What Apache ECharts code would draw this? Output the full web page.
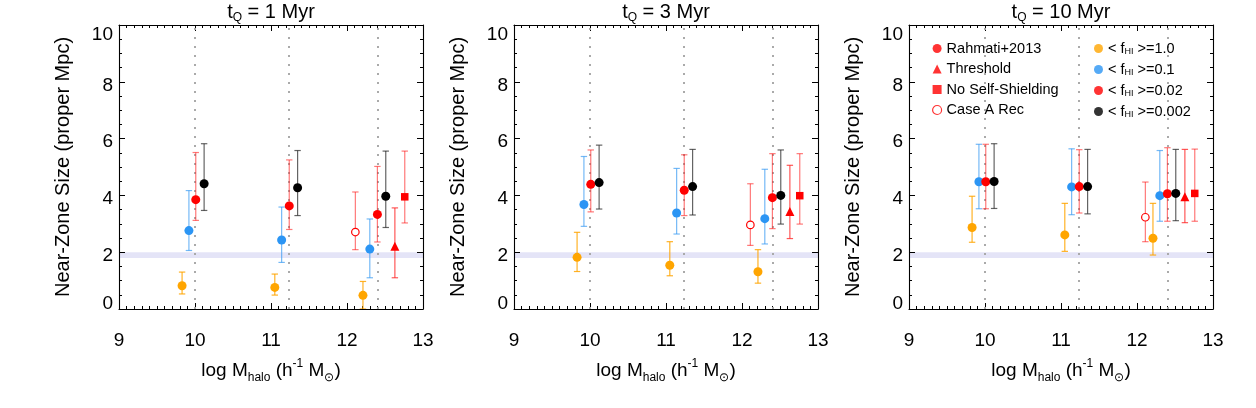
<!DOCTYPE html>
<html><head><meta charset="utf-8">
<script src="https://cdn.jsdelivr.net/npm/echarts@6/dist/echarts.min.js"></script>
<style>html,body{margin:0;padding:0;background:#fff}#c{width:1256px;height:408px}</style>
</head><body><div id="c"></div>
<script>
// ---------- data ----------
const panelTimes = ['1 Myr', '3 Myr', '10 Myr'];
const xTickMin = 9, xTickMax = 13;
const yTickMin = 0, yTickMax = 10;
const refLines = [10.0, 11.23, 12.4];      // dotted vertical guide lines
const bandRange = [1.8, 2.0];              // shaded horizontal band

// x positions (log M_halo) of each marker family
const xOrange = [9.83, 11.05, 12.21];
const xBlue   = [9.92, 11.14, 12.30];
const xRed    = [10.01, 11.24, 12.40];
const xBlack  = [10.12, 11.35, 12.51];
const xCaseA  = [12.11];
const xThresh = [12.63];
const xNoSS   = [12.76];

// [value, lower, upper] per point, tQ = 1 Myr
const orange1 = [[0.82, 0.53, 1.30], [0.76, 0.49, 1.23], [0.48, 0.0, 0.97]];
const blue1   = [[2.76, 2.06, 4.17], [2.43, 1.64, 3.59], [2.11, 1.10, 3.17]];
const red1    = [[3.85, 3.12, 5.51], [3.63, 2.80, 5.25], [3.33, 2.36, 5.02]];
const black1  = [[4.41, 3.47, 5.82], [4.27, 3.29, 5.58], [3.97, 2.87, 5.56]];
const caseA1  = [[2.71, 2.09, 4.12]];
const thresh1 = [[2.21, 1.10, 3.56]];
const noSS1   = [[3.95, 3.03, 5.56]];
// tQ = 3 Myr
const orange3 = [[1.82, 1.32, 2.70], [1.54, 1.17, 2.37], [1.31, 0.91, 2.09]];
const blue3   = [[3.68, 2.91, 5.37], [3.38, 2.64, 4.95], [3.18, 2.29, 4.92]];
const red3    = [[4.39, 3.42, 5.60], [4.18, 3.29, 5.43], [3.92, 2.83, 5.47]];
const black3  = [[4.45, 3.52, 5.77], [4.31, 3.31, 5.62], [4.00, 2.99, 5.60]];
const caseA3  = [[2.96, 2.24, 4.41]];
const thresh3 = [[3.43, 2.48, 5.06]];
const noSS3   = [[3.99, 2.99, 5.47]];
// tQ = 10 Myr
const orange10 = [[2.87, 2.35, 3.97], [2.61, 2.03, 3.72], [2.49, 1.90, 3.72]];
const blue10   = [[4.48, 3.53, 5.80], [4.30, 3.32, 5.64], [3.99, 3.09, 5.58]];
const red10    = [[4.48, 3.53, 5.80], [4.31, 3.38, 5.61], [4.06, 3.09, 5.68]];
const black10  = [[4.49, 3.54, 5.82], [4.31, 3.35, 5.62], [4.07, 3.11, 5.62]];
const caseA10  = [[3.23, 2.37, 4.47]];
const thresh10 = [[3.95, 3.04, 5.62]];
const noSS10   = [[4.07, 3.09, 5.63]];

const legendLeftNames  = ['Rahmati+2013', 'Threshold', 'No Self-Shielding', 'Case A Rec'];
const legendRightNames = ['<fHI>=1.0', '<fHI>=0.1', '<fHI>=0.02', '<fHI>=0.002'];
const legendRightVals  = ['1.0', '0.1', '0.02', '0.002'];

// ---------- styling / layout ----------
const FONT = '"Liberation Sans", Arial, Helvetica, sans-serif';
const C_OR = '#FFA500', C_BL = '#2B95F4', C_RD = '#FF0000', C_BK = '#000000';
const gridLeft = [119, 514, 909];
const gridTop = 25, gridW = 304, gridH = 284;

const panelData = [
  {orange: orange1, blue: blue1, red: red1, black: black1, caseA: caseA1, thresh: thresh1, noSS: noSS1},
  {orange: orange3, blue: blue3, red: red3, black: black3, caseA: caseA3, thresh: thresh3, noSS: noSS3},
  {orange: orange10, blue: blue10, red: red10, black: black10, caseA: caseA10, thresh: thresh10, noSS: noSS10}
];

function errRender(color, opacity) {
  return function (params, api) {
    const x = api.value(0), lo = api.value(1), hi = api.value(2);
    const a = api.coord([x, lo]), b = api.coord([x, hi]);
    const cw = 3.2;
    const st = {stroke: color, lineWidth: 1.2, opacity: opacity};
    return {type: 'group', children: [
      {type: 'line', shape: {x1: a[0], y1: a[1], x2: b[0], y2: b[1]}, style: st},
      {type: 'line', shape: {x1: a[0] - cw, y1: a[1], x2: a[0] + cw, y2: a[1]}, style: st},
      {type: 'line', shape: {x1: b[0] - cw, y1: b[1], x2: b[0] + cw, y2: b[1]}, style: st}
    ]};
  };
}

const grids = [], xAxes = [], yAxes = [], series = [];
const axisLineStyle = {color: '#000', width: 1.1};
const richName = {
  a: {fontSize: 19, fontFamily: FONT, color: '#000', lineHeight: 26},
  s: {fontSize: 12, fontFamily: FONT, color: '#000', lineHeight: 12, verticalAlign: 'bottom'},
  p: {fontSize: 12, fontFamily: FONT, color: '#000', lineHeight: 12, verticalAlign: 'top'}
};

for (let i = 0; i < 3; i++) {
  grids.push({left: gridLeft[i], top: gridTop, width: gridW, height: gridH});
  const xBase = {
    gridIndex: i, type: 'value', min: xTickMin, max: xTickMax, interval: 1,
    axisLine: {show: true, onZero: false, lineStyle: axisLineStyle},
    axisTick: {show: true, inside: true, length: 6, lineStyle: {color: '#000', width: 1}},
    minorTick: {show: true, splitNumber: 10, length: 3, lineStyle: {color: '#000', width: 1}},
    splitLine: {show: false}, minorSplitLine: {show: false}
  };
  xAxes.push(Object.assign({}, xBase, {
    position: 'bottom',
    axisLabel: {show: true, margin: 22, fontSize: 19, color: '#000', fontFamily: FONT},
    name: '{a|log M}{s|halo}{a| (h}{p|-1}{a| M}{s|\u2299}{a|)}',
    nameLocation: 'middle', nameGap: 49,
    nameTextStyle: {rich: richName}
  }));
  const yBase = {
    gridIndex: i, type: 'value', min: yTickMin, max: yTickMax, interval: 2,
    axisLine: {show: true, onZero: false, lineStyle: axisLineStyle},
    axisTick: {show: true, inside: true, length: 6, lineStyle: {color: '#000', width: 1}},
    minorTick: {show: true, splitNumber: 4, length: 3, lineStyle: {color: '#000', width: 1}},
    splitLine: {show: false}, minorSplitLine: {show: false}
  };
  yAxes.push(Object.assign({}, yBase, {
    position: 'left',
    axisLabel: {
      show: true, margin: 6, color: '#000',
      formatter: v => v === 0 ? '{b|0}' : (v === 10 ? '{t|10}' : '{m|' + v + '}'),
      rich: {
        b: {fontSize: 19, fontFamily: FONT, color: '#000', padding: [0, 0, 10, 0]},
        t: {fontSize: 19, fontFamily: FONT, color: '#000', padding: [20, 0, 0, 0]},
        m: {fontSize: 19, fontFamily: FONT, color: '#000', padding: [7, 0, 0, 0]}
      }
    },
    name: 'Near-Zone Size (proper Mpc)', nameLocation: 'middle', nameGap: 46,
    nameTextStyle: {fontSize: 20, fontFamily: FONT, color: '#000'}
  }));
}
for (let i = 0; i < 3; i++) {
  xAxes.push({
    gridIndex: i, type: 'value', min: xTickMin, max: xTickMax, interval: 1, position: 'top',
    axisLine: {show: true, onZero: false, lineStyle: axisLineStyle},
    axisTick: {show: true, inside: true, length: 6, lineStyle: {color: '#000', width: 1}},
    minorTick: {show: true, splitNumber: 10, length: 3, lineStyle: {color: '#000', width: 1}},
    axisLabel: {show: false}, splitLine: {show: false}
  });
  yAxes.push({
    gridIndex: i, type: 'value', min: yTickMin, max: yTickMax, interval: 2, position: 'right',
    axisLine: {show: true, onZero: false, lineStyle: axisLineStyle},
    axisTick: {show: true, inside: true, length: 6, lineStyle: {color: '#000', width: 1}},
    minorTick: {show: true, splitNumber: 4, length: 3, lineStyle: {color: '#000', width: 1}},
    axisLabel: {show: false}, splitLine: {show: false}
  });
}

const families = [
  {key: 'orange', xs: xOrange, barColor: '#FFA500', barOp: 0.85, symbol: 'circle', size: 9, fill: C_OR},
  {key: 'blue',   xs: xBlue,   barColor: '#3A9BF2', barOp: 0.7, symbol: 'circle', size: 9, fill: C_BL},
  {key: 'caseA',  xs: xCaseA,  barColor: '#FF2020', barOp: 0.6, symbol: 'circle', size: 7.5, fill: '#fff', hollow: true},
  {key: 'red',    xs: xRed,    barColor: '#FF2020', barOp: 0.6, symbol: 'circle', size: 9, fill: C_RD},
  {key: 'black',  xs: xBlack,  barColor: '#222222', barOp: 0.7, symbol: 'circle', size: 9, fill: C_BK},
  {key: 'thresh', xs: xThresh, barColor: '#FF2020', barOp: 0.75, symbol: 'triangle', size: 9, fill: C_RD},
  {key: 'noSS',   xs: xNoSS,   barColor: '#FF2020', barOp: 0.6, symbol: 'rect', size: 7.5, fill: C_RD}
];

for (let i = 0; i < 3; i++) {
  // band + dotted guides (kept beneath the marks)
  series.push({
    type: 'line', xAxisIndex: i, yAxisIndex: i, data: [], silent: true, z: 1,
    markArea: {silent: true, z: 0, itemStyle: {color: '#E4E4F7'},
      data: [[{yAxis: bandRange[0]}, {yAxis: bandRange[1]}]]},
    markLine: {silent: true, z: 1, symbol: ['none', 'none'], label: {show: false},
      lineStyle: {type: [2, 7], color: '#AAAAAA', width: 2},
      emphasis: {disabled: true},
      data: refLines.map(v => ({xAxis: v}))}
  });
  const pd = panelData[i];
  families.forEach(f => {
    const rows = pd[f.key];
    series.push({
      type: 'custom', name: 'err-' + f.key + '-' + i, xAxisIndex: i, yAxisIndex: i, z: 6,
      silent: true, clip: true,
      renderItem: errRender(f.barColor, f.barOp),
      encode: {x: 0, y: [1, 2]},
      data: rows.map((r, k) => [f.xs[k], r[1], r[2]])
    });
    series.push({
      type: 'scatter', name: 'pt-' + f.key + '-' + i, xAxisIndex: i, yAxisIndex: i, z: 7,
      silent: true, symbol: f.symbol, symbolSize: f.size,
      itemStyle: f.hollow ? {color: '#fff', borderColor: C_RD, borderWidth: 1.2, opacity: 1}
                          : {color: f.fill, opacity: 1},
      data: rows.map((r, k) => [f.xs[k], r[0]])
    });
  });
}

// legend dummy series (on panel 3)
const legendDefs = [
  {name: legendLeftNames[0], symbol: 'circle', itemStyle: {color: C_RD}},
  {name: legendLeftNames[1], symbol: 'triangle', itemStyle: {color: C_RD}},
  {name: legendLeftNames[2], symbol: 'rect', itemStyle: {color: C_RD}},
  {name: legendLeftNames[3], symbol: 'circle', itemStyle: {color: '#fff', borderColor: C_RD, borderWidth: 1.2}},
  {name: legendRightNames[0], symbol: 'circle', itemStyle: {color: C_OR}},
  {name: legendRightNames[1], symbol: 'circle', itemStyle: {color: C_BL}},
  {name: legendRightNames[2], symbol: 'circle', itemStyle: {color: C_RD}},
  {name: legendRightNames[3], symbol: 'circle', itemStyle: {color: C_BK}}
];
legendDefs.forEach(d => {
  series.push({type: 'scatter', name: d.name, xAxisIndex: 2, yAxisIndex: 2, data: [],
    symbol: d.symbol, itemStyle: d.itemStyle});
});

const legendRich = {
  a: {fontSize: 14.5, fontFamily: FONT, color: '#000', lineHeight: 16},
  s: {fontSize: 9, fontFamily: FONT, color: '#000', lineHeight: 9, verticalAlign: 'bottom'}
};
function legendFmt(name) {
  const k = legendRightNames.indexOf(name);
  if (k >= 0) return '{a|< f}{s|HI}{a| >=' + legendRightVals[k] + '}';
  return '{a|' + name + '}';
}
const legendBase = {
  orient: 'vertical', top: 41, padding: 0, itemWidth: 9, itemHeight: 9, itemGap: 5.5,
  selectedMode: false, formatter: legendFmt,
  textStyle: {rich: legendRich, fontSize: 14.5, fontFamily: FONT, color: '#000'}
};

const titleRich = {
  a: {fontSize: 20, fontFamily: FONT, color: '#000', lineHeight: 24},
  s: {fontSize: 12, fontFamily: FONT, color: '#000', lineHeight: 12, verticalAlign: 'bottom'}
};
const graphics = panelTimes.map((t, i) => ({
  type: 'text', x: gridLeft[i] + gridW / 2, y: 12, silent: true,
  style: {text: '{a|t}{s|Q}{a| = ' + t + '}', rich: titleRich, align: 'center', verticalAlign: 'middle'}
}));

const option = {
  animation: false,
  backgroundColor: '#fff',
  grid: grids, xAxis: xAxes, yAxis: yAxes, series: series,
  legend: [
    Object.assign({}, legendBase, {left: 932, data: legendDefs.slice(0, 4).map(d => ({name: d.name, icon: d.symbol, itemStyle: d.itemStyle}))}),
    Object.assign({}, legendBase, {left: 1094, data: legendDefs.slice(4).map(d => ({name: d.name, icon: d.symbol, itemStyle: d.itemStyle}))})
  ],
  graphic: graphics
};
const chart = echarts.init(document.getElementById('c'), null, {renderer: 'canvas'});
chart.setOption(option);
</script>
</body></html>
